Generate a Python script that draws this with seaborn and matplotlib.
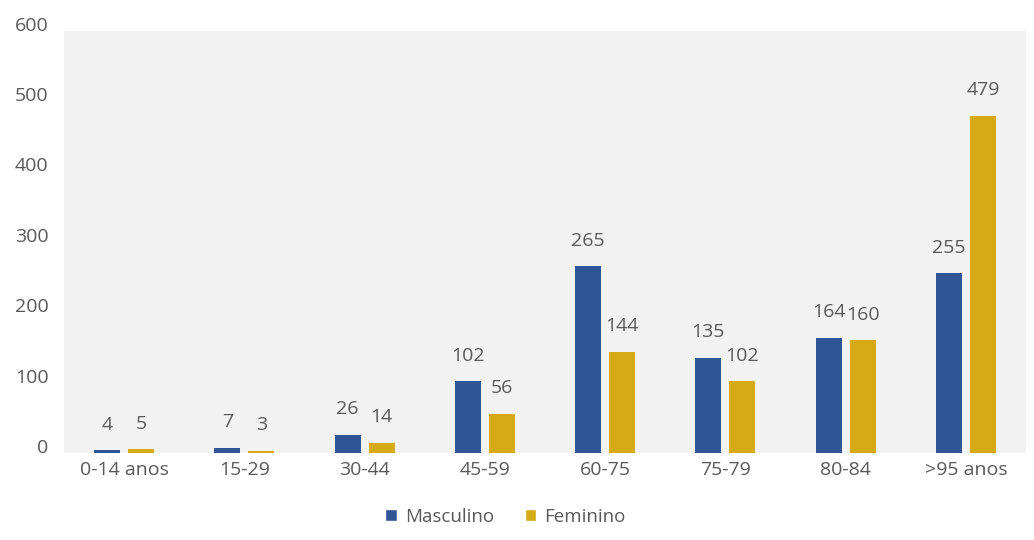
import matplotlib
matplotlib.use("Agg")
import matplotlib.pyplot as plt
import matplotlib.transforms as mtransforms
from matplotlib.patches import Patch
import seaborn as sns
import pandas as pd

# Age groups and counts per sex
age_groups = ["0-14 anos", "15-29", "30-44", "45-59", "60-75", "75-79", "80-84", ">95 anos"]
masculino = [4, 7, 26, 102, 265, 135, 164, 255]
feminino = [5, 3, 14, 56, 144, 102, 160, 479]
series_names = ["Masculino", "Feminino"]
y_ticks = [0, 100, 200, 300, 400, 500, 600]

blue = "#2f5597"
gold = "#d6a916"
text_col = "#595959"

df = pd.DataFrame({
    "grupo": age_groups * 2,
    "sexo": [series_names[0]] * len(age_groups) + [series_names[1]] * len(age_groups),
    "valor": masculino + feminino,
})

sns.set_theme(style="white")
plt.rcParams["font.family"] = ["Open Sans", "DejaVu Sans"]

fig = plt.figure(figsize=(10.34, 5.4), dpi=100)
ax = fig.add_axes([64 / 1034, 1 - 453 / 540, (1026 - 64) / 1034, (453 - 30.5) / 540])
ax.set_facecolor("#f2f2f2")

sns.barplot(data=df, x="grupo", y="valor", hue="sexo", order=age_groups,
            hue_order=series_names, palette=[blue, gold], width=0.567, gap=0.235,
            saturation=1, legend=False, linewidth=0, edgecolor="none", ax=ax)

# Value labels above each bar
for container in ax.containers:
    ax.bar_label(container, labels=[f"{int(v)}" for v in container.datavalues],
                 padding=12, fontsize=14, color=text_col)

ax.set_xlim(-0.5, len(age_groups) - 0.5)
ax.set_ylim(0, 592)
ax.set_yticks(y_ticks)
ax.set_xlabel("")
ax.set_ylabel("")
for s in ax.spines.values():
    s.set_visible(False)
ax.tick_params(axis="both", length=0, labelsize=14, colors=text_col)
ax.tick_params(axis="y", pad=11)
ax.tick_params(axis="x", pad=6)

# Y tick labels sit slightly above their gridline values
offset = mtransforms.ScaledTranslation(0, 5 / 72, fig.dpi_scale_trans)
for lab in ax.get_yticklabels():
    lab.set_transform(lab.get_transform() + offset)

handles = [Patch(facecolor=blue, label=series_names[0]),
           Patch(facecolor=gold, label=series_names[1])]
fig.legend(handles=handles, loc="center", bbox_to_anchor=(0.489, 1 - 517 / 540),
           ncol=2, frameon=False, fontsize=13.5, handlelength=0.62, handleheight=0.62,
           handletextpad=0.45, columnspacing=1.6, labelcolor=text_col)

fig.savefig("out.png", dpi=100)
